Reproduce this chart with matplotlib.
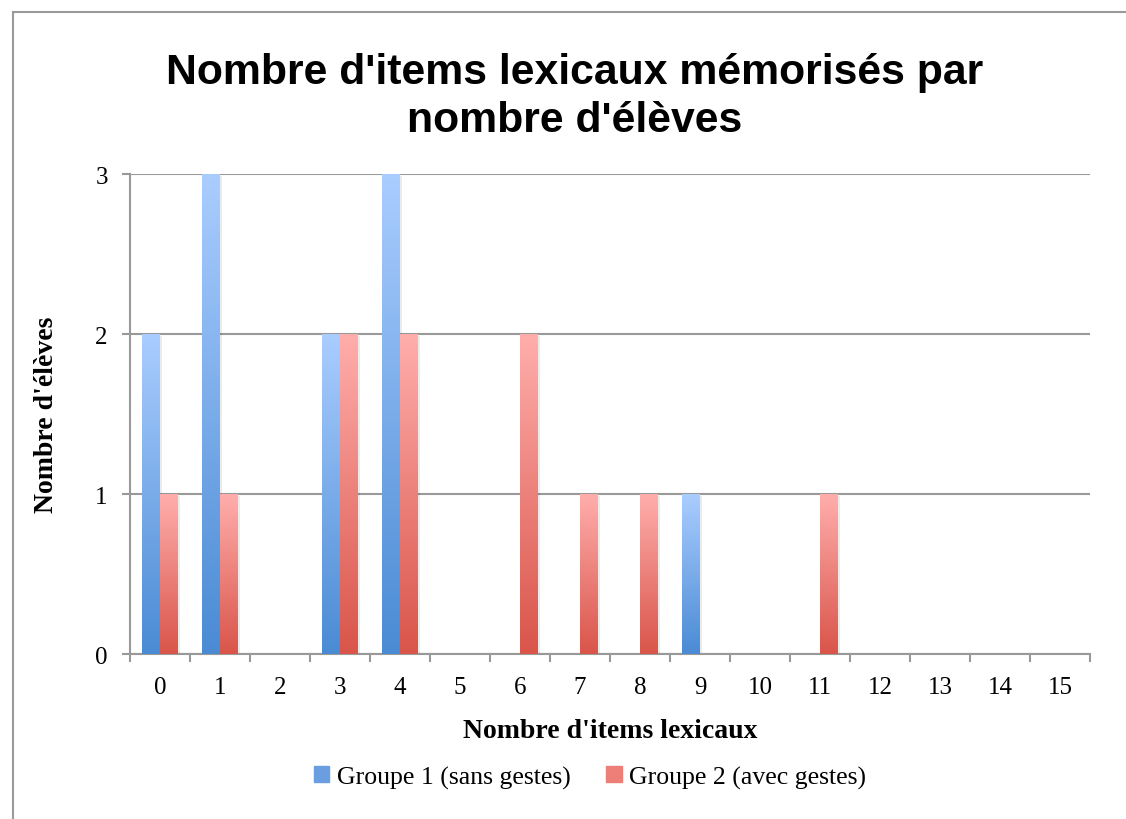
import matplotlib.pyplot as plt
import numpy as np
from matplotlib.colors import LinearSegmentedColormap
from matplotlib.patches import Rectangle

# valeurs
items = list(range(16))
groupe1 = [2, 3, 0, 2, 3, 0, 0, 0, 0, 1, 0, 0, 0, 0, 0, 0]
groupe2 = [1, 1, 0, 2, 2, 0, 2, 1, 1, 0, 0, 1, 0, 0, 0, 0]
labels = ["Groupe 1 (sans gestes)", "Groupe 2 (avec gestes)"]

blue_cmap = LinearSegmentedColormap.from_list("b", ["#4a8bd4", "#aacdff"])
red_cmap = LinearSegmentedColormap.from_list("r", ["#d9554a", "#ffaeac"])

serif = "Liberation Serif"

fig = plt.figure(figsize=(11.26, 8.2), dpi=100)
fig.patches.append(Rectangle((13 / 1126, -0.1), 1.2, 1 - 13 / 820 + 0.1,
                             transform=fig.transFigure, fill=False,
                             edgecolor="#999999", lw=1.5))
ax = fig.add_axes([130 / 1126, 1 - 655 / 820, 960 / 1126, 480 / 820])

x = np.arange(len(items))
w = 0.3
b1 = ax.bar(x - w / 2, groupe1, w, color="none", label=labels[0])
b2 = ax.bar(x + w / 2, groupe2, w, color="none", label=labels[1])

grad = np.linspace(0, 1, 256).reshape(-1, 1)
for bars, cmap in [(b1, blue_cmap), (b2, red_cmap)]:
    for p in bars:
        h = p.get_height()
        if h == 0:
            continue
        x0 = p.get_x()
        # petite ombre
        ax.add_patch(Rectangle((x0 + 0.03, 0), p.get_width(), h - 0.01,
                               color="#000000", alpha=0.08, lw=0, zorder=2))
        ax.imshow(grad, extent=(x0, x0 + p.get_width(), 0, h), origin="lower",
                  cmap=cmap, aspect="auto", zorder=3, interpolation="bicubic")

ax.set_xlim(-0.5, 15.5)
ax.set_ylim(0, 3)
ax.set_yticks([0, 1, 2, 3])
ax.set_xticks(x)
ax.set_xticklabels([str(i) for i in items])
ax.set_xticks(np.arange(-0.5, 16, 1), minor=True)
ax.tick_params(axis="x", which="major", length=0, pad=16)
ax.tick_params(axis="x", which="minor", length=6, color="#999999", width=1.5)
ax.tick_params(axis="y", length=6, color="#999999", width=1.5, pad=10)
for lab in ax.get_xticklabels() + ax.get_yticklabels():
    lab.set_fontfamily(serif)
    lab.set_fontsize(18)
ax.grid(axis="y", color="#999999", lw=1.5)
ax.set_axisbelow(True)
for s in ["top", "right"]:
    ax.spines[s].set_visible(False)
for s in ["left", "bottom"]:
    ax.spines[s].set_color("#999999")
    ax.spines[s].set_linewidth(1.5)

ax.set_xlabel("Nombre d'items lexicaux", fontfamily=serif, fontweight="bold",
              fontsize=20, labelpad=14)
ax.set_ylabel("Nombre d'élèves", fontfamily=serif, fontweight="bold",
              fontsize=20, labelpad=26)

fig.text(575 / 1126, 1 - 97 / 820, "Nombre d'items lexicaux mémorisés par\nnombre d'élèves",
         fontfamily="Liberation Sans", fontweight="bold", fontsize=30.8,
         ha="center", va="center", linespacing=1.25)

handles = [Rectangle((0, 0), 1, 1, color="#6a9ee0"),
           Rectangle((0, 0), 1, 1, color="#ee7f78")]
fig.legend(handles, labels, loc="center", bbox_to_anchor=(590 / 1126, 1 - 778 / 820),
           ncol=2, frameon=False, handlelength=0.6, handleheight=0.6,
           handletextpad=0.3, columnspacing=1.4,
           prop={"family": serif, "size": 18.5})

fig.savefig("out.png", dpi=100)
